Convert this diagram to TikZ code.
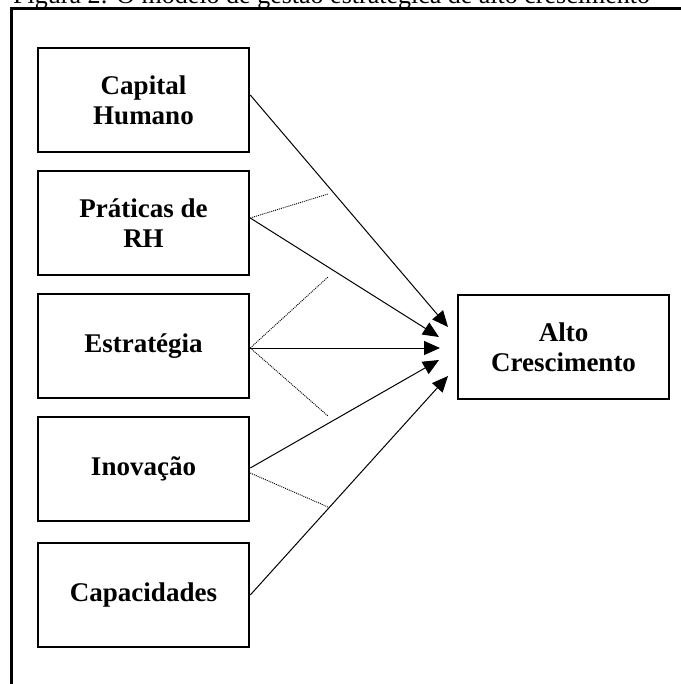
\documentclass[tikz,border=0pt]{standalone}
\usepackage{fontspec}
\setmainfont{Liberation Serif}
\usetikzlibrary{arrows,arrows.meta,shapes,decorations}

\tikzset{caixa/.style={draw,line width=2.5pt,minimum width=211pt,minimum height=104pt,
    inner sep=0pt,align=center,font=\bfseries\fontsize{27}{30}\selectfont},
  seta/.style={line width=1pt,-{Triangle[length=16pt,width=14pt]}},
  pontos/.style={line width=0.9pt,dash pattern=on 1pt off 1pt}}

\begin{document}
\begin{tikzpicture}[x=1pt,y=-1pt]
            \useasboundingbox (0,0) rectangle (680,684);
            \node[anchor=base west,inner sep=0pt,font=\fontsize{26}{28}\selectfont] (titulo) 
            at (13,4) {Figura 2: O modelo de gestão estratégica de alto crescimento};
            \draw[line width=2.5pt] (700,8.5) -- (11.5,8.5) -- (11.5,700);
            % caixas da esquerda
            \foreach \nome/\texto/\y in {cap/{Capital\\Humano}/100,prat/{Práticas de\\RH}/223,
                                          estr/{Estratégia}/346,inov/{Inovação}/469,
                                          capac/{Capacidades}/595}
            \node[caixa] (\nome) at (143.5,\y) {\texto};
            \node[caixa] (alto) at (563.5,347) {Alto\\Crescimento};
            % pontas das setas
            \coordinate (t1) at (448,327);
            \coordinate (t2) at (439,337);
            \coordinate (t3) at (440,348);
            \coordinate (t4) at (439,360);
            \coordinate (t5) at (448,376);
            \draw[seta] ([yshift=5pt]cap.east) -- (t1);
            \draw[seta] ([yshift=5pt]prat.east) -- (t2);
            \draw[seta] ([yshift=-2pt]estr.east) -- (t3);
            \draw[seta] ([yshift=1pt]inov.east) -- (t4);
            \draw[seta] (capac.east) -- (t5);
            % linhas pontilhadas
            \coordinate (d1) at (328,194);
            \coordinate (d2) at (328,277);
            \coordinate (d3) at (328,416);
            \coordinate (d4) at (328,507);
            \draw[pontos] ([yshift=5pt]prat.east) -- (d1);
            \draw[pontos] ([yshift=-2pt]estr.east) -- (d2);
            \draw[pontos] ([yshift=-2pt]estr.east) -- (d3);
            \draw[pontos] ([yshift=-4pt]inov.east) -- (d4);
      \end{tikzpicture}
\end{document}
